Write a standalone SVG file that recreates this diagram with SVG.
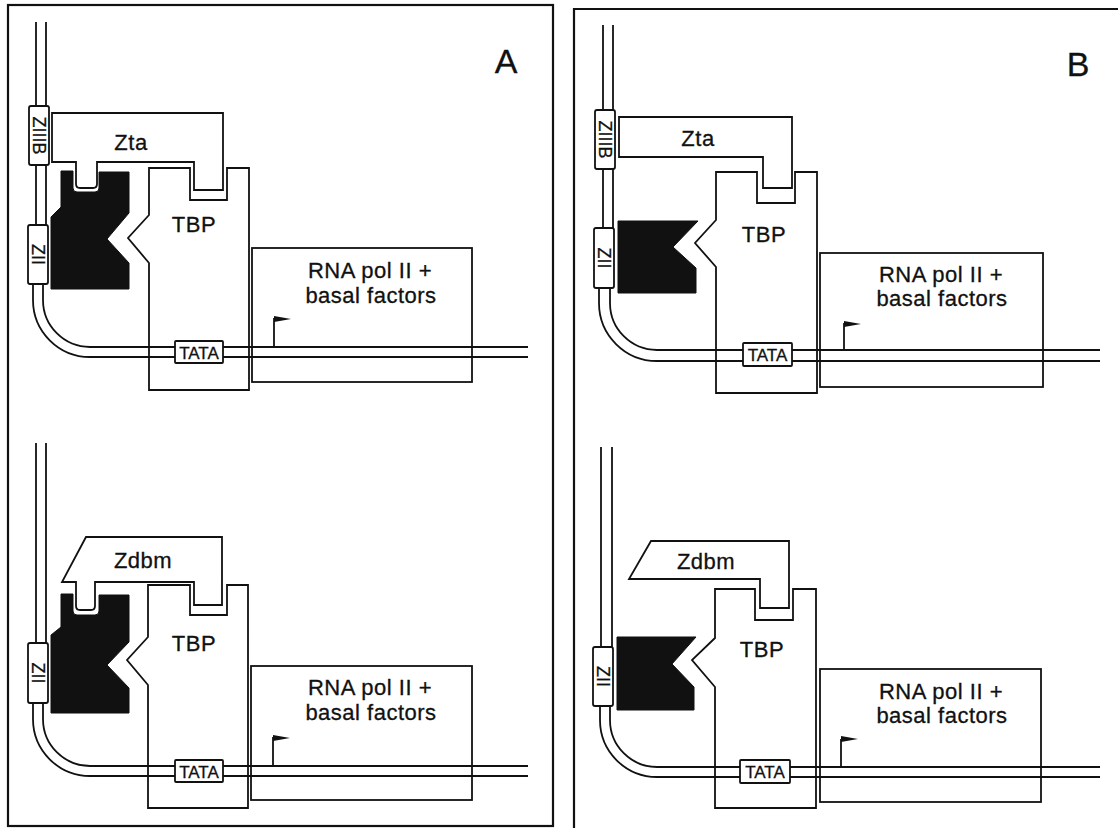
<svg xmlns="http://www.w3.org/2000/svg" width="1118" height="828" viewBox="0 0 1118 828">
<style>
.ln{fill:none;stroke:#111;stroke-width:1.8}
.frame{fill:none;stroke:#111;stroke-width:2.2}
.shape{fill:#fff;stroke:#111;stroke-width:1.8;stroke-linejoin:miter}
.open{fill:none;stroke:#111;stroke-width:1.8}
.blk{fill:#111;stroke:#111;stroke-width:1}
.flag{fill:#111}
text{font-family:"Liberation Sans",Arial,Helvetica,sans-serif;fill:#111;stroke:#111;stroke-width:0.3}
.lbl{font-size:22px;letter-spacing:0.5px;text-anchor:middle}
.big{font-size:34px;text-anchor:middle}
.tata{font-size:17px;text-anchor:middle}
.zt{font-size:18px;text-anchor:middle;dominant-baseline:central}
</style>
<rect width="1118" height="828" fill="#fff"/>
<g id="frames">
<rect class="frame" x="8" y="5" width="545" height="821"/>
<path class="frame" d="M574,828 L574,9 L1118,9"/>
<text class="big" x="506" y="73">A</text>
<text class="big" x="1078" y="76">B</text>
</g>
<g id="connectors">
<path class="ln" d="M36,22 V110 M46,22 V110 M36,160 V230 M46,160 V230"/>
<path class="ln" d="M33,280 V300 A57,57 0 0 0 90,357 H528"/>
<path class="ln" d="M43,280 V300 A47,47 0 0 0 90,347 H528"/>
<path class="ln" d="M274,347 V318"/>
<polygon class="flag" points="274,316 291,319 274,322"/>
<path class="ln" d="M36,443 V648 M46,443 V648"/>
<path class="ln" d="M33,700 V719 A57,57 0 0 0 90,776 H528"/>
<path class="ln" d="M43,700 V719 A47,47 0 0 0 90,766 H528"/>
<path class="ln" d="M273,766 V737"/>
<polygon class="flag" points="273,735 290,738 273,741"/>
<path class="ln" d="M603,25 V115 M613,25 V115 M603,165 V232 M613,165 V232"/>
<path class="ln" d="M599,284 V303 A58,58 0 0 0 657,361 H1100"/>
<path class="ln" d="M610,284 V303 A47,47 0 0 0 657,350 H1100"/>
<path class="ln" d="M844,350 V323"/>
<polygon class="flag" points="844,321 861,324 844,327"/>
<path class="ln" d="M601,447 V652 M612,447 V652"/>
<path class="ln" d="M600,702 V720 A57,57 0 0 0 657,777 H1100"/>
<path class="ln" d="M610,702 V720 A47,47 0 0 0 657,767 H1100"/>
<path class="ln" d="M841,767 V739"/>
<polygon class="flag" points="841,736 858,739 841,742"/>
</g>

<g id="a1-tbp">
<path class="open" d="M149,168 L190,168 L190,200 L227,200 L227,168 L249,168 L249,390 L149,390 L149,263 L128,238 L149,215 Z"/>
<text class="lbl" x="194" y="232">TBP</text>
</g>
<g id="a1-rna">
<rect class="open" x="252" y="248" width="220" height="134"/>
<text class="lbl" x="370" y="278">RNA pol II +</text>
<text class="lbl" x="371" y="303">basal factors</text>
</g>
<g id="a1-zta">
<path class="shape" d="M52,113 L223,113 L223,190 L194,190 L194,162 L97,162 L97,184 Q97,188 93,188 L80,188 Q76,188 76,184 L76,162 L52,162 Z"/>
<text class="lbl" x="131" y="150">Zta</text>
</g>
<g id="a1-coact">
<path class="blk" d="M61,171 L73,171 L73,188 Q73,192 77,192 L95,192 Q99,192 99,188 L99,172 L129,172 L129,213 L107,239 L129,263 L129,289 L51,289 L51,217 L61,207 Z"/>
</g>
<g id="a1-ziiib">
<rect class="shape" x="29" y="106" width="20" height="59" rx="2"/>
<text class="zt" x="39" y="135.5" transform="rotate(90 39 135.5)">ZIIIB</text>
</g>
<g id="a1-zii">
<rect class="shape" x="28" y="225" width="20" height="59" rx="2"/>
<text class="zt" x="38" y="254.5" transform="rotate(90 38 254.5)">ZII</text>
</g>
<g id="a1-tata">
<rect class="shape" x="175" y="341" width="48" height="22" rx="1"/>
<text class="tata" x="199" y="358.5">TATA</text>
</g>

<g id="a2-tbp">
<path class="open" d="M148,585 L190,585 L190,615 L227,615 L227,585 L248,585 L248,808 L148,808 L148,685 L127,660 L148,637 Z"/>
<text class="lbl" x="194" y="651">TBP</text>
</g>
<g id="a2-rna">
<rect class="open" x="251" y="666" width="221" height="134"/>
<text class="lbl" x="370" y="695">RNA pol II +</text>
<text class="lbl" x="371" y="720">basal factors</text>
</g>
<g id="a2-zdbm">
<path class="shape" d="M86,537 L222,537 L222,605 L194,605 L194,582 L95,582 L95,606 Q95,610 91,610 L80,610 Q76,610 76,606 L76,582 L62,582 Z"/>
<text class="lbl" x="143" y="568">Zdbm</text>
</g>
<g id="a2-coact">
<path class="blk" d="M61,594 L73,594 L73,611 Q73,615 77,615 L95,615 Q99,615 99,611 L99,595 L129,595 L129,642 L107,665 L129,688 L129,713 L51,713 L51,635 L61,627 Z"/>
</g>
<g id="a2-zii">
<rect class="shape" x="28" y="643" width="20" height="60" rx="2"/>
<text class="zt" x="38" y="673" transform="rotate(90 38 673)">ZII</text>
</g>
<g id="a2-tata">
<rect class="shape" x="175" y="760" width="48" height="22" rx="1"/>
<text class="tata" x="199" y="777.5">TATA</text>
</g>

<g id="b1-tbp">
<path class="open" d="M716,172 L757,172 L757,203 L795,203 L795,172 L817,172 L817,393 L716,393 L716,267 L695,243 L716,220 Z"/>
<text class="lbl" x="764" y="242">TBP</text>
</g>
<g id="b1-rna">
<rect class="open" x="820" y="253" width="223" height="134"/>
<text class="lbl" x="941" y="282">RNA pol II +</text>
<text class="lbl" x="942" y="306">basal factors</text>
</g>
<g id="b1-zta">
<path class="shape" d="M619,117 L792,117 L792,188 L763,188 L763,157 L619,157 Z"/>
<text class="lbl" x="698" y="146">Zta</text>
</g>
<g id="b1-coact">
<path class="blk" d="M618,221 L698,221 L673,247 L696,268 L696,293 L618,293 Z"/>
</g>
<g id="b1-ziiib">
<rect class="shape" x="595" y="110" width="20" height="59" rx="2"/>
<text class="zt" x="605" y="139.5" transform="rotate(90 605 139.5)">ZIIIB</text>
</g>
<g id="b1-zii">
<rect class="shape" x="594" y="228" width="20" height="60" rx="2"/>
<text class="zt" x="604" y="258" transform="rotate(90 604 258)">ZII</text>
</g>
<g id="b1-tata">
<rect class="shape" x="743" y="343" width="49" height="23" rx="1"/>
<text class="tata" x="767.5" y="361">TATA</text>
</g>

<g id="b2-tbp">
<path class="open" d="M715,589 L755,589 L755,620 L793,620 L793,589 L816,589 L816,808 L715,808 L715,687 L692,660 L715,638 Z"/>
<text class="lbl" x="762" y="657">TBP</text>
</g>
<g id="b2-rna">
<rect class="open" x="820" y="669" width="221" height="133"/>
<text class="lbl" x="941" y="699">RNA pol II +</text>
<text class="lbl" x="942" y="723">basal factors</text>
</g>
<g id="b2-zdbm">
<path class="shape" d="M651,541 L789,541 L789,608 L760,608 L760,579 L629,579 Z"/>
<text class="lbl" x="706" y="569">Zdbm</text>
</g>
<g id="b2-coact">
<path class="blk" d="M617,637 L696,637 L672,664 L694,687 L694,710 L617,710 Z"/>
</g>
<g id="b2-zii">
<rect class="shape" x="593" y="647" width="20" height="59" rx="2"/>
<text class="zt" x="603" y="676.5" transform="rotate(90 603 676.5)">ZII</text>
</g>
<g id="b2-tata">
<rect class="shape" x="740" y="760" width="50" height="23" rx="1"/>
<text class="tata" x="765" y="778">TATA</text>
</g>
</svg>
